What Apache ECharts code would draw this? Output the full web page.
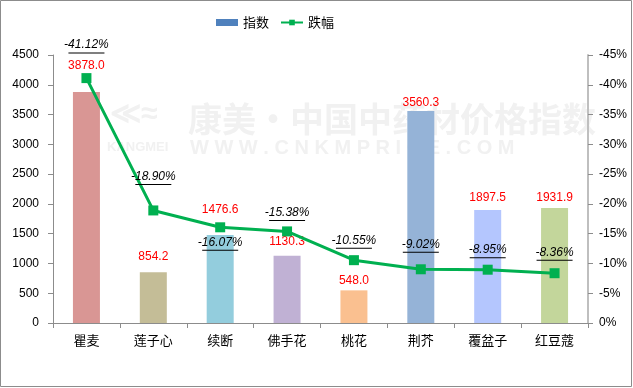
<!DOCTYPE html>
<html><head><meta charset="utf-8">
<script src="https://cdn.jsdelivr.net/npm/echarts@6/dist/echarts.min.js"></script>
<style>html,body{margin:0;padding:0;background:#fff}#c{width:633px;height:388px}</style>
</head><body><div id="c"></div>
<script>
var categories = ['瞿麦','莲子心','续断','佛手花','桃花','荆芥','覆盆子','红豆蔻'];
var indexValues = [3878.0, 854.2, 1476.6, 1130.3, 548.0, 3560.3, 1897.5, 1931.9];
var dropValues = [41.12, 18.90, 16.07, 15.38, 10.55, 9.02, 8.95, 8.36];
var leftTicks = [0, 500, 1000, 1500, 2000, 2500, 3000, 3500, 4000, 4500];
var rightTicks = [0, 5, 10, 15, 20, 25, 30, 35, 40, 45];

// styling / layout (not data)
var barColors = ['#d99694','#c4bd97','#93cddd','#c0b1d4','#fac090','#95b3d7','#b4c6fe','#c3d69b'];
var barLabelDist = [20, 9, 19, 8, 4, 2, 6, 4];
var lineLabelCfg = [[-32],[-33],[16],[-18],[-19],[-24],[-19],[-20]];
var font = '"Liberation Sans", Arial, sans-serif';
var cjk = '"Noto Sans CJK SC", sans-serif';

var chart = echarts.init(document.getElementById('c'), null, {renderer:'canvas'});
var barData = indexValues.map(function(v,i){
  return {value:v, itemStyle:{color:barColors[i]}, label:{distance:barLabelDist[i]}};
});
var lineData = dropValues.map(function(v,i){
  return {value:v, label:{offset:[0, lineLabelCfg[i][0]]}};
});
chart.setOption({
  animation:false,
  graphic:[
    {type:'rect', shape:{x:0.5,y:0.5,width:631,height:386}, style:{fill:'none', stroke:'#8c8c8c', lineWidth:1}, z:-10},
    {type:'text', left:188, top:102, style:{text:'康美·中国中药材价格指数', font:'bold 34px "Noto Sans CJK SC"', fill:'#f1f1f1'}, z:-5},
    {type:'text', left:107, top:141, style:{text:'KANGMEI', font:'bold 13px "Liberation Sans"', fill:'#f1f1f1'}, z:-5},
    {type:'text', left:190, top:138, style:{text:'W W W . C N K M P R I C E . C O M', font:'bold 20px "Liberation Sans"', fill:'#f1f1f1'}, z:-5},
    {type:'text', left:110, top:100, style:{text:'≪≈', font:'bold 30px "Liberation Sans"', fill:'#f1f1f1'}, z:-5}
  ],
  legend:{
    top:11, left:211, itemGap:11, itemWidth:22, itemHeight:7,
    textStyle:{fontFamily:cjk, fontSize:13, color:'#000'},
    data:[{name:'指数', icon:'rect', itemStyle:{color:'#4f81bd'}}, {name:'跌幅'}]
  },
  grid:{left:53, right:45, top:55, bottom:65},
  xAxis:{
    type:'category', data:categories, boundaryGap:true,
    axisLine:{lineStyle:{color:'#8c8c8c', width:1}},
    axisTick:{show:true, length:5, alignWithLabel:false, lineStyle:{color:'#8c8c8c'}},
    axisLabel:{fontFamily:cjk, fontSize:13, color:'#000', margin:11}
  },
  yAxis:[
    {type:'value', min:0, max:4500, interval:500, position:'left',
     axisLine:{show:true, lineStyle:{color:'#8c8c8c'}},
     axisTick:{show:true, length:5, lineStyle:{color:'#8c8c8c'}},
     axisLabel:{fontFamily:font, fontSize:12, color:'#000', margin:14,
       formatter:function(v){return leftTicks.indexOf(v)>=0 ? String(v) : '';}},
     splitLine:{show:false}},
    {type:'value', min:0, max:45, interval:5, position:'right',
     axisLine:{show:true, lineStyle:{color:'#bfbfbf', width:2}},
     axisTick:{show:true, length:5, lineStyle:{color:'#8c8c8c'}},
     axisLabel:{fontFamily:font, fontSize:12, color:'#000', margin:11,
       formatter:function(v){ if(rightTicks.indexOf(v)<0) return ''; return v===0 ? '0%' : '-'+v+'%'; }},
     splitLine:{show:false}}
  ],
  series:[
    {name:'指数', type:'bar', yAxisIndex:0, data:barData, barWidth:27,
     itemStyle:{color:'#4f81bd'},
     label:{show:true, position:'top', color:'#ff0000', fontFamily:font, fontSize:12,
       formatter:function(p){return p.value.toFixed(1);}}},
    {name:'跌幅', type:'line', yAxisIndex:1, data:lineData,
     symbol:'rect', symbolSize:10, z:5,
     itemStyle:{color:'#00b050'}, lineStyle:{color:'#00b050', width:3},
     label:{show:true, position:'inside',
       formatter:function(p){return '{t|-'+p.value.toFixed(2)+'%}\n{u|}';},
       rich:{
         t:{fontFamily:font, fontStyle:'italic', fontSize:12, color:'#000', lineHeight:14, align:'center'},
         u:{width:36, height:1, lineHeight:2, backgroundColor:'#000', align:'center'}
       }}}
  ]
});
</script></body></html>
